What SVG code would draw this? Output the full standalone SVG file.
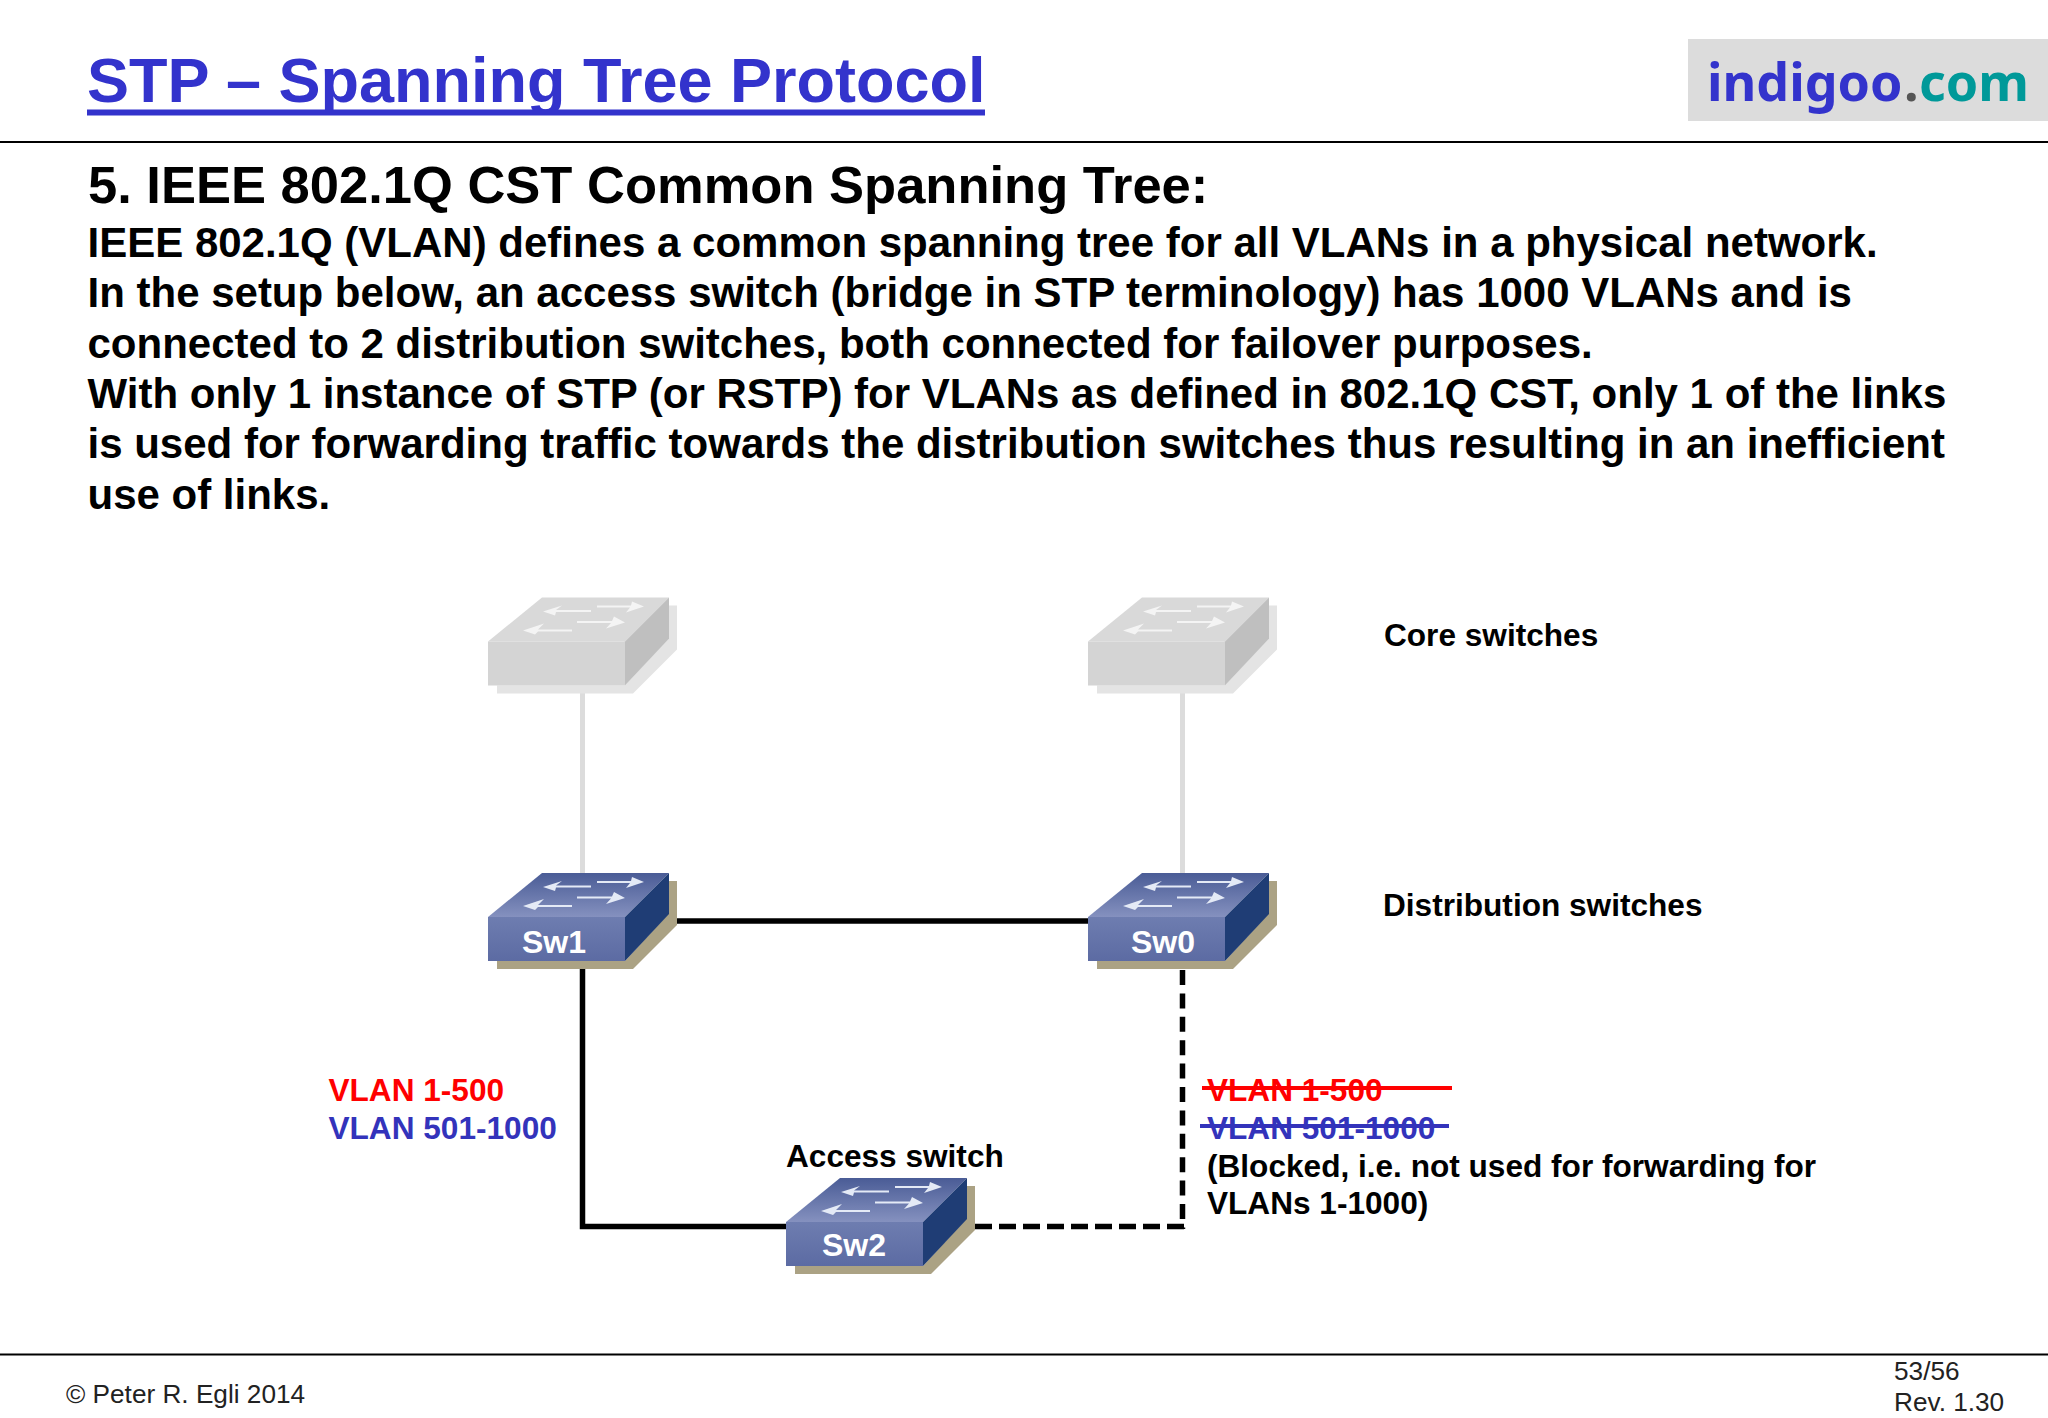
<svg xmlns="http://www.w3.org/2000/svg" width="2048" height="1418" viewBox="0 0 2048 1418">
<style>
text{font-family:"Liberation Sans",Arial,sans-serif;font-weight:700;fill:#000}
.title{font-size:63px;fill:#3333cc}
.h1{font-size:52.500px}
.body{font-size:42px}
.lbl{font-size:31.600px}
.sw{font-size:32px;fill:#fff}
.red{fill:#ff0000}.blue{fill:#3333bb}
.foot{font-size:26.200px;font-weight:400;fill:#222}
.logo{font-family:"Noto Sans","Open Sans",sans-serif;font-size:52px}
.rule{stroke:#000;stroke-width:2;fill:none}
.gl{stroke:#dcdcdc;stroke-width:5;fill:none}
.bl{stroke:#000;stroke-width:5.500;fill:none}
.ds{stroke:#000;stroke-width:5.500;fill:none}
.shadow{fill:#aba284}.top{fill:url(#topB)}.front{fill:url(#frontB)}.side{fill:#1f3d75}
.cshadow{fill:#e4e4e4}.ctop{fill:#d9d9d9}.cfront{fill:#d4d4d4}.cside{fill:#bfbfbf}
.arrow{fill:#e4eaf6}
.carrow{fill:#f4f4f4}
</style>
<defs>
<linearGradient id="topB" x1="0" y1="0" x2="0" y2="1"><stop offset="0" stop-color="#4a5c96"/><stop offset="1" stop-color="#8591bf"/></linearGradient>
<linearGradient id="frontB" x1="0" y1="0" x2="0" y2="1"><stop offset="0" stop-color="#6e7db0"/><stop offset="1" stop-color="#5c6ba3"/></linearGradient>
<path id="sw-arrows" d="M543 887L562 881L556 885.500H591V887.500H556L555 891ZM523 906L544 899L538 905H572V907H538L535 910ZM644 882L632 877L631 881H597V883H630L626 888ZM625 898L614 892L612 896.500H577V898.500H611L606 904Z"/>
</defs>

<rect width="2048" height="1418" fill="#fff"/>
<g id="header">
<text class="title" x="87" y="102">STP – Spanning Tree Protocol</text>
<rect x="87" y="109.500" width="898" height="6" fill="#3333cc"/>
<rect x="1688" y="39" width="360" height="82" fill="#dcdcdc"/>
<text class="logo" y="101"><tspan x="1707" fill="#3333cc">indigoo</tspan><tspan x="1904" fill="#555">.</tspan><tspan x="1919" fill="#009999">com</tspan></text>
<line class="rule" x1="0" y1="142" x2="2048" y2="142"/>
</g>
<g id="heading">
<text class="h1" x="88" y="203">5. IEEE 802.1Q CST Common Spanning Tree:</text>
<text class="body" x="87.500" y="257">IEEE 802.1Q (VLAN) defines a common spanning tree for all VLANs in a physical network.</text>
<text class="body" x="87.500" y="307">In the setup below, an access switch (bridge in STP terminology) has 1000 VLANs and is</text>
<text class="body" x="87.500" y="358">connected to 2 distribution switches, both connected for failover purposes.</text>
<text class="body" x="87.500" y="408">With only 1 instance of STP (or RSTP) for VLANs as defined in 802.1Q CST, only 1 of the links</text>
<text class="body" x="87.500" y="458">is used for forwarding traffic towards the distribution switches thus resulting in an inefficient</text>
<text class="body" x="87.500" y="509">use of links.</text>
</g>
<g id="connectors">
<line class="gl" x1="582.500" y1="692" x2="582.500" y2="873"/>
<line class="gl" x1="1182.500" y1="692" x2="1182.500" y2="873"/>
<line class="bl" x1="677" y1="921" x2="1088" y2="921"/>
<path class="bl" d="M582.500 969V1226.500H786"/>
<path class="ds" stroke-dasharray="17 7" d="M975 1226.500H1185"/>
<path class="ds" stroke-dasharray="15 8.400" d="M1182.500 970V1229"/>
</g>
<g id="core-left" transform="translate(0,-275.500)">
<path class="cshadow" d="M497 961V969H633L677 925V881H669V913L625 961Z"/>
<path class="ctop" d="M488 917L542 873H669L625 917Z"/>
<rect class="cfront" x="488" y="917" width="137" height="44"/>
<path class="cside" d="M625 917L669 873V914L625 961Z"/>
<use href="#sw-arrows" class="carrow"/>
</g>
<g id="core-right" transform="translate(600,-275.500)">
<path class="cshadow" d="M497 961V969H633L677 925V881H669V913L625 961Z"/>
<path class="ctop" d="M488 917L542 873H669L625 917Z"/>
<rect class="cfront" x="488" y="917" width="137" height="44"/>
<path class="cside" d="M625 917L669 873V914L625 961Z"/>
<use href="#sw-arrows" class="carrow"/>
</g>
<g id="sw1">
<path class="shadow" d="M497 961V969H633L677 925V881H669V913L625 961Z"/>
<path class="top" d="M488 917L542 873H669L625 917Z"/>
<rect class="front" x="488" y="917" width="137" height="44"/>
<path class="side" d="M625 917L669 873V914L625 961Z"/>
<use href="#sw-arrows" class="arrow"/>
<text class="sw" x="522" y="953">Sw1</text>
</g>
<g id="sw0" transform="translate(600,0)">
<path class="shadow" d="M497 961V969H633L677 925V881H669V913L625 961Z"/>
<path class="top" d="M488 917L542 873H669L625 917Z"/>
<rect class="front" x="488" y="917" width="137" height="44"/>
<path class="side" d="M625 917L669 873V914L625 961Z"/>
<use href="#sw-arrows" class="arrow"/>
<text class="sw" x="531" y="953">Sw0</text>
</g>
<g id="sw2" transform="translate(298,305)">
<path class="shadow" d="M497 961V969H633L677 925V881H669V913L625 961Z"/>
<path class="top" d="M488 917L542 873H669L625 917Z"/>
<rect class="front" x="488" y="917" width="137" height="44"/>
<path class="side" d="M625 917L669 873V914L625 961Z"/>
<use href="#sw-arrows" class="arrow"/>
<text class="sw" x="524" y="951">Sw2</text>
</g>
<g id="labels">
<text class="lbl" x="1384" y="646">Core switches</text>
<text class="lbl" x="1383" y="916">Distribution switches</text>
<text class="lbl" x="786" y="1167">Access switch</text>
<text class="lbl red" x="328.500" y="1101">VLAN 1-500</text>
<text class="lbl blue" x="328.500" y="1139">VLAN 501-1000</text>
<text class="lbl red" x="1207" y="1101">VLAN 1-500</text>
<text class="lbl blue" x="1207" y="1139">VLAN 501-1000</text>
<text class="lbl" x="1207" y="1177">(Blocked, i.e. not used for forwarding for</text>
<text class="lbl" x="1207" y="1214">VLANs 1-1000)</text>
<line x1="1202" y1="1088" x2="1452" y2="1088" stroke="#ff0000" stroke-width="4"/>
<line x1="1200" y1="1126" x2="1449" y2="1126" stroke="#3333bb" stroke-width="4"/>
</g>
<g id="footer">
<line class="rule" x1="0" y1="1354.500" x2="2048" y2="1354.500"/>
<text class="foot" x="66" y="1403">© Peter R. Egli 2014</text>
<text class="foot" x="1894" y="1380">53/56</text>
<text class="foot" x="1894" y="1411">Rev. 1.30</text>
</g>
</svg>
